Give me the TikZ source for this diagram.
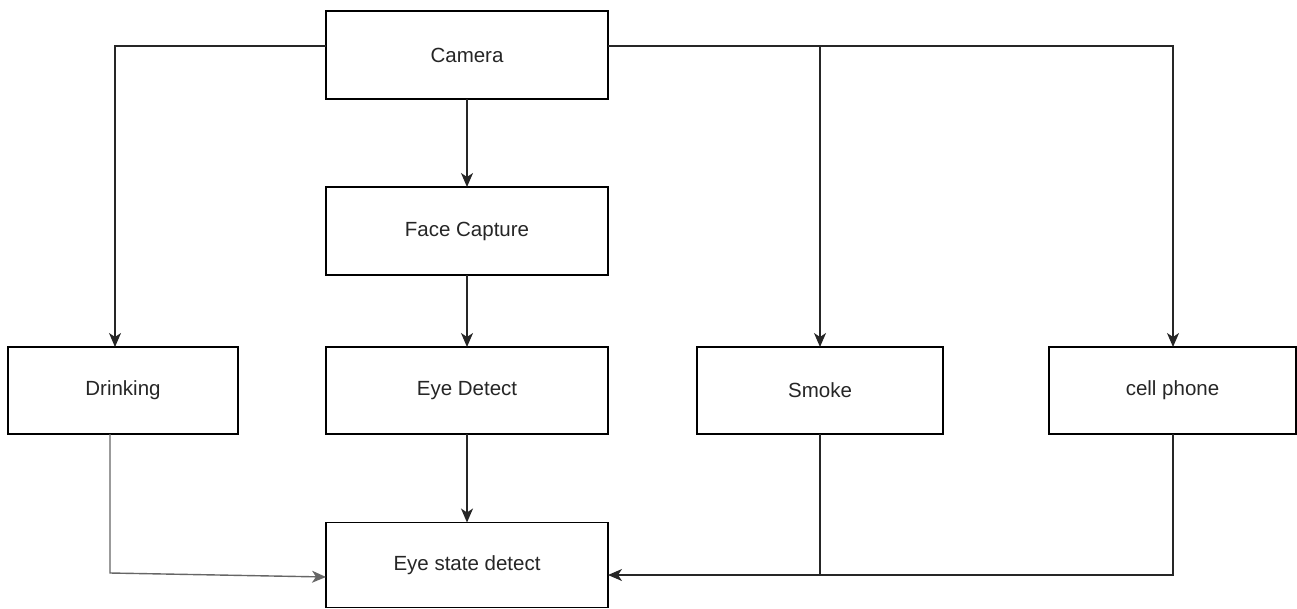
\documentclass[tikz,border=0pt]{standalone}
\usepackage{fontspec}
\setmainfont{Liberation Sans}
\usetikzlibrary{arrows.meta,calc}
\tikzset{
  box/.style={draw=black, line width=1.4pt, fill=white, inner sep=0pt, outer sep=0pt,
    font=\fontsize{20.5}{24}\selectfont, text=black!85},
  arr/.style={line width=1.4pt, draw=black!85, -{Stealth[length=14pt,width=12pt,inset=4pt]}},
  ln/.style={line width=1.4pt, draw=black!85},
}
\begin{document}
\begin{tikzpicture}[x=1pt,y=-1pt]
\useasboundingbox (0,0) rectangle (1297,608);
\node[box, minimum width=282pt, minimum height=88pt] (cam) at (467,55) {Camera};
\node[box, minimum width=282pt, minimum height=88pt] (face) at (467,231) {Face Capture};
\node[box, minimum width=282pt, minimum height=87pt] (eye) at (467,390.5) {Eye Detect};
\node[box, minimum width=230pt, minimum height=87pt] (drink) at (123,390.5) {Drinking};
\node[box, minimum width=246pt, minimum height=87pt] (smoke) at (820,390.5) {Smoke};
\node[box, minimum width=247pt, minimum height=87pt] (phone) at (1172.5,390.5) {cell phone};
\node[box, minimum width=282pt, minimum height=85pt] (state) at (467,565) {Eye state detect};

\coordinate (lt) at (115,46);
\coordinate (rt) at (1173,46);
\coordinate (mt) at (820,46);
\coordinate (db) at (110,573);
\coordinate (sb) at (820,575);
\coordinate (pb) at (1173,575);

\draw[arr] ([yshift=9pt]cam.west) -- (lt) -- ([xshift=-8pt]drink.north);
\draw[arr] ([yshift=9pt]cam.east) -- (rt) -- ([xshift=0.5pt]phone.north);
\draw[arr] (mt) -- (smoke.north);
\draw[arr] (cam.south) -- (face.north);
\draw[arr] (face.south) -- (eye.north);
\draw[arr] (eye.south) -- (state.north);
\draw[arr, draw=black!60] ([xshift=-13pt]drink.south) -- (db) -- ([yshift=-12pt]state.west);
\draw[ln] (smoke.south) -- (sb);
\draw[arr] ([xshift=0.5pt]phone.south) -- (pb) -- ([yshift=-10pt]state.east);
\end{tikzpicture}
\end{document}
